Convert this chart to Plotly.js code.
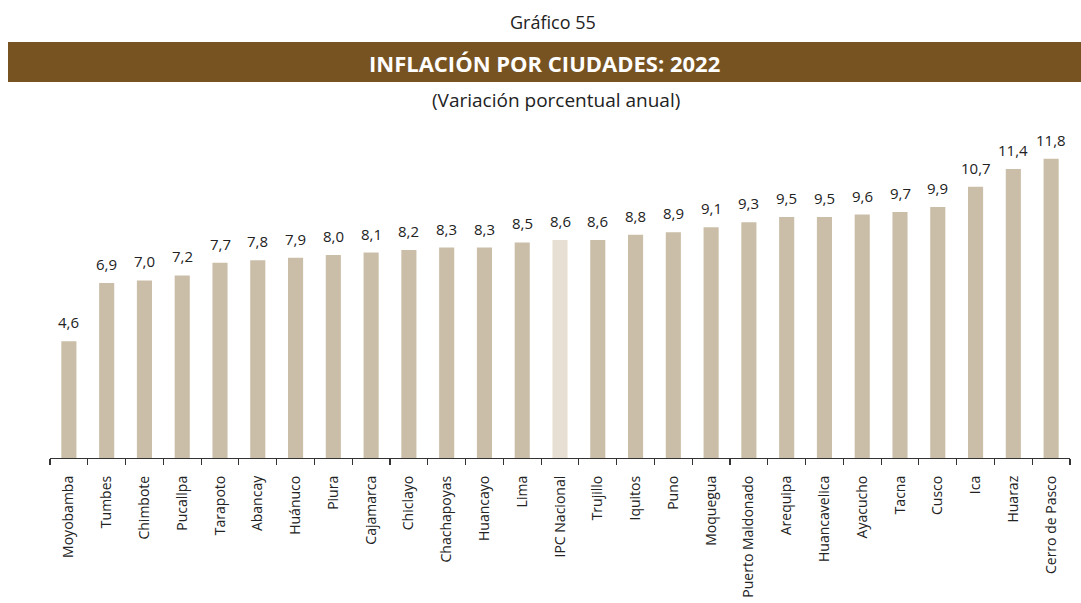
<!DOCTYPE html>
<html><head><meta charset="utf-8">
<script src="https://cdn.plot.ly/plotly-3.0.1.min.js"></script>
<style>html,body{margin:0;padding:0;background:#fff}#chart{width:1081px;height:603px}</style>
</head><body><div id="chart"></div>
<script>
const categories = ["Moyobamba","Tumbes","Chimbote","Pucallpa","Tarapoto","Abancay","Huánuco","Piura","Cajamarca","Chiclayo","Chachapoyas","Huancayo","Lima","IPC Nacional","Trujillo","Iquitos","Puno","Moquegua","Puerto Maldonado","Arequipa","Huancavelica","Ayacucho","Tacna","Cusco","Ica","Huaraz","Cerro de Pasco"];
const values = [4.6,6.9,7.0,7.2,7.7,7.8,7.9,8.0,8.1,8.2,8.3,8.3,8.5,8.6,8.6,8.8,8.9,9.1,9.3,9.5,9.5,9.6,9.7,9.9,10.7,11.4,11.8];
const highlight = "IPC Nacional";
const barColor = "#CBBEA9";
const hiColor = "#E7DFD4";

const colors = categories.map(c => c === highlight ? hiColor : barColor);
const font = "Open Sans, Noto Sans, sans-serif";

const trace = {
  type: "bar",
  x: categories,
  y: values,
  marker: {color: colors},
  hoverinfo: "skip"
};

const valueLabels = categories.map((c, i) => ({
  x: c, y: values[i], xref: "x", yref: "y",
  text: values[i].toFixed(1).replace(".", ","),
  showarrow: false, yanchor: "bottom", yshift: 7,
  font: {family: font, size: 15, color: "#222"}
}));

const layout = {
  width: 1081, height: 603,
  margin: {l: 50, r: 11, t: 141, b: 145},
  paper_bgcolor: "#fff", plot_bgcolor: "#fff",
  bargap: 0.6,
  showlegend: false,
  font: {family: font, color: "#222"},
  xaxis: {
    type: "category",
    tickangle: -90,
    tickson: "boundaries",
    ticks: "outside", ticklen: 6, tickcolor: "#333", tickwidth: 1.2,
    ticklabelstandoff: 11,
    showline: true, linecolor: "#333", linewidth: 1.2,
    tickfont: {family: font, size: 14, color: "#222"},
    showgrid: false, zeroline: false, fixedrange: true, automargin: false
  },
  yaxis: {
    range: [0, 12.5], visible: false, showgrid: false, zeroline: false, fixedrange: true
  },
  shapes: [{
    type: "rect", xref: "paper", yref: "paper",
    x0: (8-50)/1020, x1: (1081-50)/1020,
    y0: (458-82)/317, y1: (458-42)/317,
    fillcolor: "#775322", line: {width: 0}, layer: "below"
  }],
  annotations: [
    {text: "Gráfico 55", xref: "paper", yref: "paper", x: (553-50)/1020, y: (458-22)/317,
     showarrow: false, font: {family: font, size: 18, color: "#222"}, xanchor: "center", yanchor: "middle"},
    {text: "<b>INFLACIÓN POR CIUDADES: 2022</b>", xref: "paper", yref: "paper", x: (544-50)/1020, y: (458-63)/317,
     showarrow: false, font: {family: font, size: 22, color: "#fff"}, xanchor: "center", yanchor: "middle"},
    {text: "(Variación porcentual anual)", xref: "paper", yref: "paper", x: (556-50)/1020, y: (458-100)/317,
     showarrow: false, font: {family: font, size: 19, color: "#222"}, xanchor: "center", yanchor: "middle"}
  ].concat(valueLabels)
};

Plotly.newPlot("chart", [trace], layout, {displayModeBar: false, staticPlot: true});
</script></body></html>
